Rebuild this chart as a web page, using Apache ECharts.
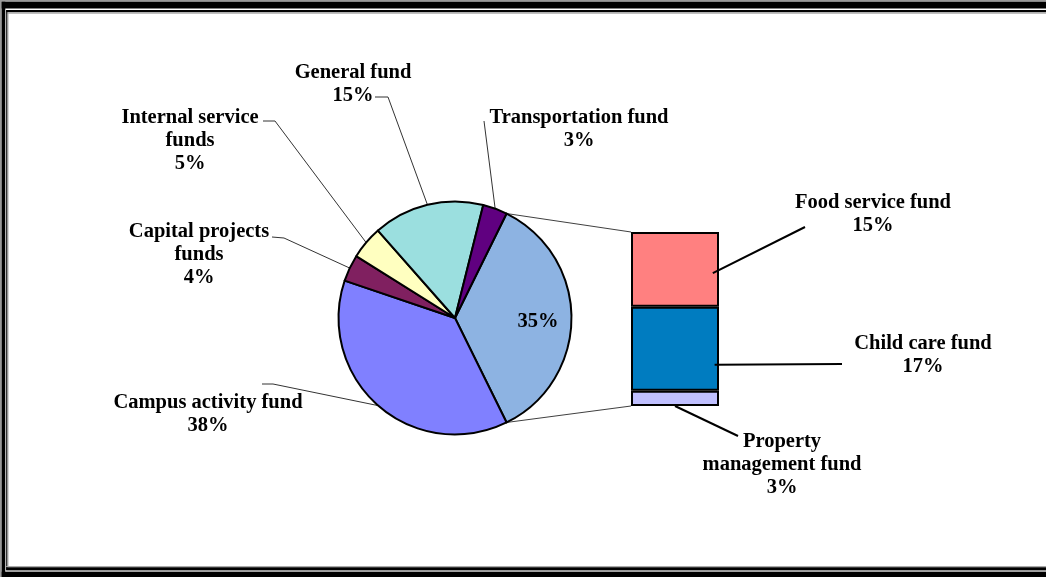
<!DOCTYPE html>
<html><head><meta charset="utf-8">
<script src="https://cdn.jsdelivr.net/npm/echarts@6/dist/echarts.min.js"></script>
<style>html,body{margin:0;padding:0;background:#fff}#c{width:1046px;height:577px}</style>
</head><body><div id="c"></div>
<script>
// ---------- data ----------
const pieCategories = ['Other', 'Campus activity fund', 'Capital projects\nfunds', 'Internal service\nfunds', 'General fund', 'Transportation fund'];
const pieValues = [35.4, 37.5, 3.7, 4.6, 15.4, 3.4];
const barCategories = ['Property\nmanagement fund', 'Child care fund', 'Food service fund'];
const barValues = [3.1, 17.1, 15.2];

// ---------- styles / layout ----------
const pieColors = ['#8DB3E2', '#8080FF', '#802060', '#FFFFC0', '#9BDFDF', '#600080'];
const barColors = ['#C0C0FF', '#007CC0', '#FF8080'];
const FONT = '"Liberation Serif", "Times New Roman", serif';
const W = 1046, H = 577;
const CX = 455, CY = 318, R = 116.5;
const GRID = {left: 631, top: 232, width: 88, height: 174};

// label centres and leader anchors (label side)
const pieLabelPos = [[538, 322], [208, 414], [199, 255], [190, 141], [353, 84], [579, 129]];
const pieLabelAnchor = [null, [[262, 384], [273, 384]], [[272, 237], [284, 238]], [[263, 121], [275, 121]], [[375, 97], [388, 97]], [[484, 121], [484, 121]]];
const barLabelPos = [[782, 465], [923, 355], [873, 214]];
const barLabelAnchor = [[738, 436], [842, 364], [805, 227]];
const barLineStart = [[0.5, 1.0], [0.95, 0.69], [0.93, 0.55]]; // fraction of bar rect

const total = pieValues.reduce((a, b) => a + b, 0);
const startAngle = pieValues[0] / total * 360 / 2;
function arcPoint(deg) {
  const a = deg * Math.PI / 180;
  return [CX + R * Math.cos(a), CY - R * Math.sin(a)];
}
const midAngles = [];
let acc = startAngle;
pieValues.forEach(v => { const s = v / total * 360; midAngles.push(acc - s / 2); acc -= s; });

const pct = v => Math.round(v) + '%';
const labelStyle = {fontFamily: FONT, fontWeight: 'bold', fontSize: 20.5, lineHeight: 23, color: '#000'};

const barTotal = barValues.reduce((a, b) => a + b, 0);

const barSeries = barValues.map((v, i) => ({
  type: 'bar', stack: 'other', name: barCategories[i], barWidth: '100%',
  xAxisIndex: 0, yAxisIndex: 0,
  data: [v],
  itemStyle: {color: barColors[i], borderColor: '#000', borderWidth: 2},
  label: Object.assign({show: true, position: 'inside', align: 'center', verticalAlign: 'middle',
    formatter: p => barCategories[i] + '\n' + pct(p.value)}, labelStyle),
  labelLayout: function () {
    return {x: barLabelPos[i][0], y: barLabelPos[i][1], align: 'center', verticalAlign: 'middle'};
  },
  emphasis: {disabled: true},
  silent: true
}));

const topPt = arcPoint(startAngle), botPt = arcPoint(-startAngle);

const frame = [
  {type: 'rect', shape: {x: 0, y: 0, width: W, height: 1.7}, style: {fill: '#999'}},
  {type: 'rect', shape: {x: 0, y: 0, width: 1.7, height: H}, style: {fill: '#999'}},
  {type: 'rect', shape: {x: 1.7, y: 1.7, width: W, height: 6.8}, style: {fill: '#000'}},
  {type: 'rect', shape: {x: 1.7, y: 1.7, width: 3.6, height: H}, style: {fill: '#000'}},
  {type: 'rect', shape: {x: 1.7, y: 571.7, width: W, height: 6}, style: {fill: '#000'}},
  {type: 'rect', shape: {x: 6.2, y: 10, width: W, height: 2.3}, style: {fill: '#000'}},
  {type: 'rect', shape: {x: 6.2, y: 12.3, width: W, height: 1.4}, style: {fill: '#aaa'}},
  {type: 'rect', shape: {x: 6.2, y: 10, width: 1.3, height: 560}, style: {fill: '#000'}},
  {type: 'rect', shape: {x: 7.5, y: 12.3, width: 1, height: 554}, style: {fill: '#aaa'}},
  {type: 'rect', shape: {x: 6.2, y: 566, width: W, height: 1.3}, style: {fill: '#aaa'}},
  {type: 'rect', shape: {x: 6.2, y: 567.3, width: W, height: 2.7}, style: {fill: '#000'}},
  {type: 'rect', shape: {x: 6.2, y: 570, width: W, height: 1.7}, style: {fill: '#999'}}
];
const baseGraphic = frame.concat([
  {type: 'line', shape: {x1: topPt[0], y1: topPt[1], x2: GRID.left, y2: GRID.top}, style: {stroke: '#404040', lineWidth: 1}, z: 0},
  {type: 'line', shape: {x1: botPt[0], y1: botPt[1], x2: GRID.left, y2: GRID.top + GRID.height}, style: {stroke: '#404040', lineWidth: 1}, z: 0}
]);

const option = {
  animation: false,
  backgroundColor: '#fff',
  grid: {left: GRID.left, top: GRID.top, width: GRID.width, height: GRID.height, containLabel: false},
  xAxis: {type: 'category', data: ['Other'], show: false},
  yAxis: {type: 'value', min: 0, max: barTotal, show: false},
  graphic: baseGraphic,
  series: [{
    type: 'pie', center: [CX, CY], radius: R, startAngle: startAngle, clockwise: true,
    data: pieValues.map((v, i) => ({
      value: v, name: pieCategories[i],
      itemStyle: {color: pieColors[i]},
      labelLine: {show: i !== 0}
    })),
    itemStyle: {borderColor: '#000', borderWidth: 2},
    label: Object.assign({show: true, position: 'outside', align: 'center',
      formatter: p => p.dataIndex === 0 ? pct(p.value) : p.name + '\n' + pct(p.value)}, labelStyle),
    labelLine: {show: true, length: 10, length2: 10, lineStyle: {color: '#333', width: 1}},
    labelLayout: function (p) {
      const i = p.dataIndex;
      const out = {x: pieLabelPos[i][0], y: pieLabelPos[i][1], align: 'center', verticalAlign: 'middle'};
      if (pieLabelAnchor[i]) {
        const a = arcPoint(midAngles[i]);
        out.labelLinePoints = [a, pieLabelAnchor[i][1], pieLabelAnchor[i][0]];
      }
      return out;
    },
    emphasis: {disabled: true},
    silent: true
  }].concat(barSeries)
};
const chart = echarts.init(document.getElementById('c'), null, {renderer: 'canvas'});
chart.setOption(option);

// bar leader lines, from each bar's pixel rect (through the chart's own scale)
const leaders = [];
let cum = 0;
barValues.forEach((v, i) => {
  const yb = chart.convertToPixel({yAxisIndex: 0}, cum);
  const yt = chart.convertToPixel({yAxisIndex: 0}, cum + v);
  cum += v;
  const s = [GRID.left + GRID.width * barLineStart[i][0], yt + (yb - yt) * barLineStart[i][1]];
  const e = barLabelAnchor[i];
  leaders.push({type: 'line', shape: {x1: s[0], y1: s[1], x2: e[0], y2: e[1]}, style: {stroke: '#000', lineWidth: 2}, z: 10});
});
chart.setOption({graphic: baseGraphic.concat(leaders)});
</script>
</body></html>
